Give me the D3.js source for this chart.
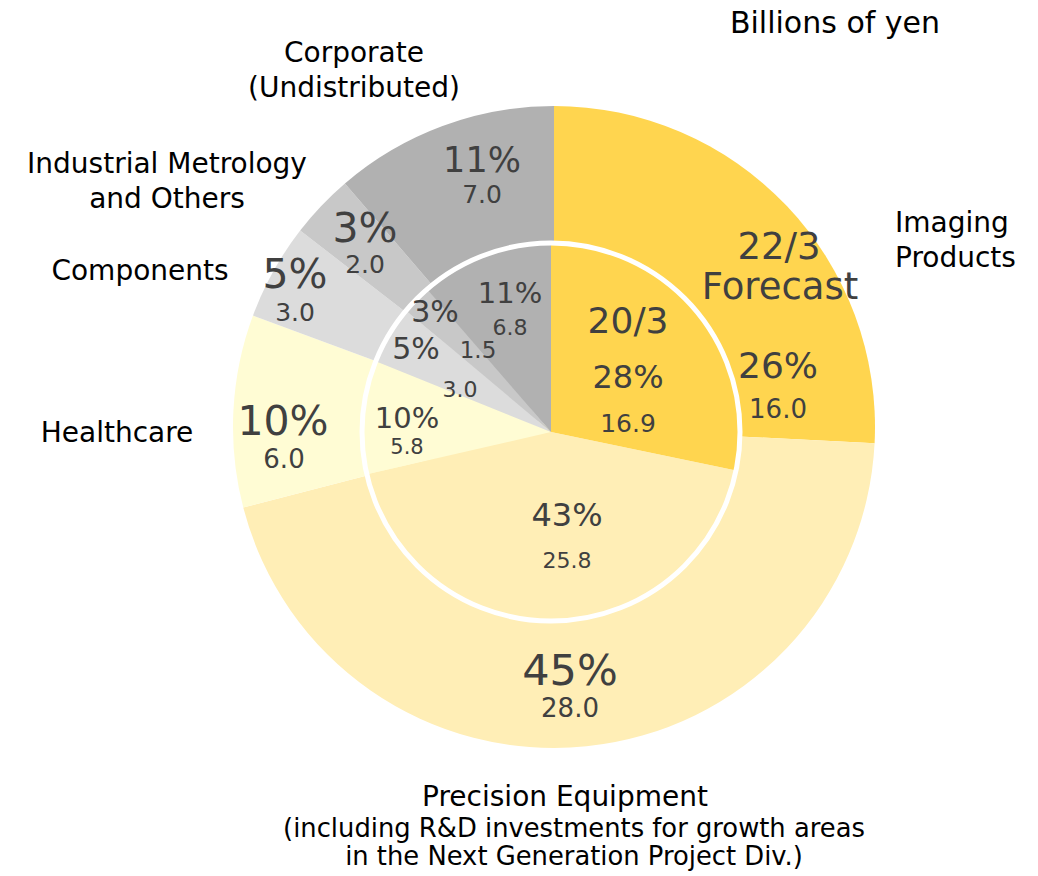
<!DOCTYPE html>
<html>
<head>
<meta charset="utf-8">
<script src="https://cdn.jsdelivr.net/npm/d3@7"></script>
<style>
  html, body { margin: 0; padding: 0; background: #fff; }
  svg { display: block; font-family: "DejaVu Sans", Verdana, sans-serif; }
</style>
</head>
<body>
<div id="chart"></div>
<script>
// Segment breakdown: outer ring = 22/3 forecast, inner pie = 20/3 actual (billions of yen).
const segments = ['Imaging Products', 'Precision Equipment', 'Healthcare', 'Components', 'Industrial Metrology and Others', 'Corporate (Undistributed)'];
const forecastValues = [16.0, 28.0, 6.0, 3.0, 2.0, 7.0];
const forecastShares = ['26%', '45%', '10%', '5%', '3%', '11%'];
const actualValues = [16.9, 25.8, 5.8, 3.0, 1.5, 6.8];
const actualShares = ['28%', '43%', '10%', '5%', '3%', '11%'];
const segmentColors = ['#FFD54F', '#FFEEB6', '#FFFCD4', '#DCDCDC', '#C8C8C8', '#B1B1B1'];

(function(){
  const width = 1038, height = 876;
  const svg = d3.select('#chart').append('svg')
    .attr('width', width).attr('height', height);

  const color = d3.scaleOrdinal(segments, segmentColors);
  const pie = d3.pie().sort(null).value(d => d.value);

  const forecast = segments.map((s, i) => ({segment: s, value: forecastValues[i], share: forecastShares[i]}));
  const actual = segments.map((s, i) => ({segment: s, value: actualValues[i], share: actualShares[i]}));

  // Outer ring (forecast) drawn as a full pie, the inner pie sits on top.
  const outerCenter = [554, 427], outerR = 321;
  const innerCenter = [551, 432], innerR = 189;

  const outer = svg.append('g').attr('transform', `translate(${outerCenter})`);
  outer.selectAll('path')
    .data(pie(forecast))
    .join('path')
    .attr('d', d3.arc().innerRadius(0).outerRadius(outerR))
    .attr('fill', d => color(d.data.segment));

  const inner = svg.append('g').attr('transform', `translate(${innerCenter})`);
  inner.selectAll('path')
    .data(pie(actual))
    .join('path')
    .attr('d', d3.arc().innerRadius(0).outerRadius(innerR))
    .attr('fill', d => color(d.data.segment));

  inner.append('circle')
    .attr('r', innerR)
    .attr('fill', 'none')
    .attr('stroke', '#fff')
    .attr('stroke-width', 5);

  // Label layout, offsets from each pie's centre: [x, shareBaseline, valueBaseline, shareSize, valueSize, valueX]
  const outerLabelPos = [
    [224, -49, -9, 36, 26],
    [16, 258, 290, 43, 26],
    [-271, 8, 41, 41, 26, -270],
    [-259, -139, -106, 41, 25],
    [-189, -185, -154, 41, 25],
    [-72, -255, -224, 35, 25]
  ];
  const innerLabelPos = [
    [77, -44, 0, 32, 25],
    [16, 94, 136, 32, 22],
    [-144, -4, 22, 29, 21],
    [-135, -73, -35, 30, 22, -91],
    [-116, -110, -74, 30, 23, -73],
    [-41, -129, -97, 29, 22]
  ];
  const fmt = d3.format('.1f');
  const ink = '#404040';

  function addLabels(g, data, layout){
    data.forEach((d, i) => {
      const [x, yShare, yValue, sShare, sValue, xValue] = layout[i];
      g.append('text')
        .attr('x', x).attr('y', yShare)
        .attr('text-anchor', 'middle')
        .attr('font-size', sShare)
        .attr('fill', ink)
        .text(d.share);
      g.append('text')
        .attr('x', xValue == null ? x : xValue).attr('y', yValue)
        .attr('text-anchor', 'middle')
        .attr('font-size', sValue)
        .attr('fill', ink)
        .text(fmt(d.value));
    });
  }
  addLabels(outer, forecast, outerLabelPos);
  addLabels(inner, actual, innerLabelPos);

  // Period headers inside the Imaging slices.
  outer.append('text').attr('x', 225).attr('y', -168)
    .attr('text-anchor', 'middle').attr('font-size', 37).attr('fill', ink).text('22/3');
  outer.append('text').attr('x', 226).attr('y', -128)
    .attr('text-anchor', 'middle').attr('font-size', 37).attr('fill', ink).text('Forecast');
  inner.append('text').attr('x', 77).attr('y', -99)
    .attr('text-anchor', 'middle').attr('font-size', 36).attr('fill', ink).text('20/3');

  // Category names around the ring.
  const names = [
    {lines: ['Imaging', 'Products'], x: 895, y: 232, anchor: 'start', size: 28, gap: 35},
    {lines: ['Precision Equipment'], x: 565, y: 806, anchor: 'middle', size: 28, gap: 0},
    {lines: ['(including R&D investments for growth areas', 'in the Next Generation Project Div.)'], x: 574, y: 837, anchor: 'middle', size: 25.8, gap: 28},
    {lines: ['Healthcare'], x: 117, y: 442, anchor: 'middle', size: 28, gap: 0},
    {lines: ['Components'], x: 140, y: 280, anchor: 'middle', size: 28, gap: 0},
    {lines: ['Industrial Metrology', 'and Others'], x: 167, y: 173, anchor: 'middle', size: 28, gap: 35},
    {lines: ['Corporate', '(Undistributed)'], x: 354, y: 62, anchor: 'middle', size: 28, gap: 35}
  ];
  names.forEach(n => {
    const t = svg.append('text')
      .attr('x', n.x).attr('y', n.y)
      .attr('text-anchor', n.anchor)
      .attr('font-size', n.size)
      .attr('fill', '#000');
    n.lines.forEach((line, j) => {
      t.append('tspan').attr('x', n.x).attr('dy', j === 0 ? 0 : n.gap).text(line);
    });
  });

  svg.append('text')
    .attr('x', 835).attr('y', 33)
    .attr('text-anchor', 'middle')
    .attr('font-size', 30)
    .attr('fill', '#000')
    .text('Billions of yen');
})();
</script>
</body>
</html>
